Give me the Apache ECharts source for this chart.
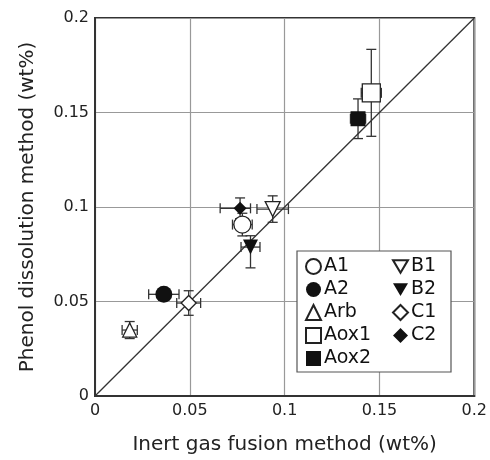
<!DOCTYPE html>
<html>
<head>
<meta charset="utf-8">
<script src="https://cdn.jsdelivr.net/npm/echarts@6/dist/echarts.min.js"></script>
<style>
  html, body { margin: 0; padding: 0; background: #fff; }
  #chart { width: 490px; height: 460px; }
</style>
</head>
<body>
<div id="chart"></div>
<script>
// samples, same order everywhere
var names = ['A1', 'A2', 'Arb', 'Aox1', 'Aox2', 'B1', 'B2', 'C1', 'C2'];
var xValues = [0.0777, 0.0363, 0.0183, 0.1457, 0.1387, 0.0937, 0.0820, 0.0494, 0.0765];
var yValues = [0.0907, 0.0538, 0.0349, 0.1604, 0.1467, 0.0989, 0.0788, 0.0492, 0.0993];
var xErrLow  = [0.0052, 0.0080, 0.0040, 0.0053, 0.0040, 0.0083, 0.0050, 0.0063, 0.0105];
var xErrHigh = [0.0052, 0.0080, 0.0040, 0.0053, 0.0040, 0.0083, 0.0050, 0.0063, 0.0055];
var yErrLow  = [0.0060, 0.0030, 0.0045, 0.0230, 0.0105, 0.0070, 0.0110, 0.0065, 0.0055];
var yErrHigh = [0.0060, 0.0030, 0.0045, 0.0230, 0.0105, 0.0070, 0.0060, 0.0065, 0.0055];
var diagonal = [0, 0.2];
var tickLabels = ['0', '0.05', '0.1', '0.15', '0.2'];

var downTri = 'path://M0,0 L20,0 L10,17 Z';
var symbols = ['circle', 'circle', 'triangle', 'rect', 'rect', downTri, downTri, 'diamond', 'diamond'];
var sizes = [17, 17, 14, 18, 15, 15, 15, 15, 13];
var filled = [false, true, false, false, true, false, true, false, true];

var chart = echarts.init(document.getElementById('chart'));
var font = 'DejaVu Sans';

var series = [];
// diagonal y = x
series.push({
  type: 'line',
  data: [[diagonal[0], diagonal[0]], [diagonal[1], diagonal[1]]],
  symbol: 'none',
  lineStyle: { color: '#333', width: 1.3 },
  silent: true,
  z: 1
});
// error bars
series.push({
  type: 'custom',
  z: 2,
  data: names.map(function (n, i) {
    return [xValues[i], yValues[i], xValues[i] - xErrLow[i], xValues[i] + xErrHigh[i],
            yValues[i] - yErrLow[i], yValues[i] + yErrHigh[i]];
  }),
  renderItem: function (params, api) {
    var x = api.value(0), y = api.value(1);
    var l = api.coord([api.value(2), y]);
    var r = api.coord([api.value(3), y]);
    var b = api.coord([x, api.value(4)]);
    var t = api.coord([x, api.value(5)]);
    var cap = 5;
    var st = { stroke: '#333', lineWidth: 1.3 };
    function ln(x1, y1, x2, y2) {
      return { type: 'line', shape: { x1: x1, y1: y1, x2: x2, y2: y2 }, style: st };
    }
    return {
      type: 'group',
      children: [
        ln(l[0], l[1], r[0], r[1]),
        ln(l[0], l[1] - cap, l[0], l[1] + cap),
        ln(r[0], r[1] - cap, r[0], r[1] + cap),
        ln(b[0], b[1], t[0], t[1]),
        ln(b[0] - cap, b[1], b[0] + cap, b[1]),
        ln(t[0] - cap, t[1], t[0] + cap, t[1])
      ]
    };
  }
});
names.forEach(function (n, i) {
  series.push({
    name: n,
    type: 'scatter',
    z: 3,
    data: [[xValues[i], yValues[i]]],
    symbol: symbols[i],
    symbolSize: sizes[i],
    itemStyle: {
      color: filled[i] ? '#111' : '#fff',
      borderColor: '#222',
      borderWidth: filled[i] ? 0 : 1.3,
      opacity: 1
    }
  });
});

var legendCommon = {
  orient: 'vertical',
  itemWidth: 15,
  itemHeight: 15,
  itemGap: 4,
  padding: 0,
  z: 5,
  selectedMode: false,
  textStyle: { fontFamily: font, fontSize: 19, color: '#111', padding: [0, 0, 0, -2] }
};

var axisCommon = {
  type: 'value',
  min: 0,
  max: 0.2,
  interval: 0.05,
  nameLocation: 'middle',
  nameTextStyle: { fontFamily: font, fontSize: 20, color: '#222' },
  axisLine: { show: true, lineStyle: { color: '#333', width: 2 } },
  axisTick: { show: false },
  splitLine: { show: true, lineStyle: { color: '#999', width: 1.2 } },
  axisLabel: {
    fontFamily: font, fontSize: 16, color: '#222',
    formatter: function (v) { return tickLabels[Math.round(v / 0.05)]; }
  }
};

chart.setOption({
  animation: false,
  grid: {
    left: 95, right: 13, top: 18, bottom: 62,
    show: true, borderColor: '#333', borderWidth: 2
  },
  xAxis: Object.assign({}, axisCommon, {
    name: 'Inert gas fusion method (wt%)',
    nameGap: 39,
    axisLabel: Object.assign({}, axisCommon.axisLabel, { margin: 7 })
  }),
  yAxis: Object.assign({}, axisCommon, {
    name: 'Phenol dissolution method (wt%)',
    nameGap: 57,
    axisLabel: Object.assign({}, axisCommon.axisLabel, { margin: 6 })
  }),
  legend: [
    Object.assign({}, legendCommon, { left: 305, top: 257, data: names.slice(0, 5) }),
    Object.assign({}, legendCommon, { left: 392, top: 257, data: names.slice(5) })
  ],
  graphic: [{
    type: 'rect',
    shape: { x: 297, y: 251, width: 154, height: 121 },
    style: { fill: '#fff', stroke: '#555', lineWidth: 1.2 },
    z: 4
  }],
  series: series
});
</script>
</body>
</html>
